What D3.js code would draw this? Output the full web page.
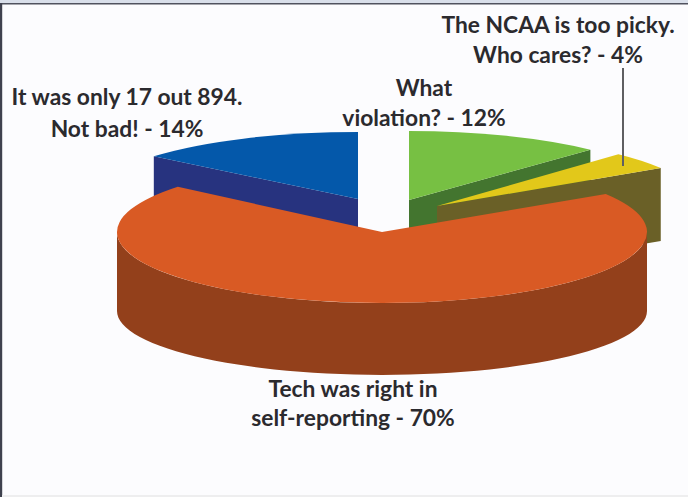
<!DOCTYPE html>
<html>
<head>
<meta charset="utf-8">
<script src="https://cdn.jsdelivr.net/npm/d3@7"></script>
<style>
  html, body { margin: 0; padding: 0; background: #fff; }
  svg { display: block; }
  text { font-family: Lato, "Open Sans", sans-serif; font-weight: 700; fill: #2b2a2e; text-anchor: middle; }
</style>
</head>
<body>
<svg id="chart" width="688" height="497"></svg>
<script>
// Poll results, in clockwise order from twelve o'clock
const categories = ["What violation?", "The NCAA is too picky.", "Tech was right", "Only 17 out of 894"];
const shares = [12, 4, 70, 14];

// Face colours per slice
const topColors = ["#77c043", "#e2c81a", "#d95a24", "#0458aa"];
const wallColors = ["#43752f", "#6a6027", "#93401b", "#27337f"];

// Exploded slice geometry: apex, vertical radius, wall height, floor squash
const apexes = [[409, 200], [437, 206], [382, 232], [358, 199]];
const radiiY = [69, 71, 71, 67];
const wallHeights = [70, 73, 79, 70];
const floorSquash = [1, 1, 0.9, 1];
const radiusX = 265;

const labelLines = [
  { lines: ["The NCAA is too picky.", "Who cares? - 4%"], x: 558, y: [33, 63] },
  { lines: ["What", "violation? - 12%"], x: 424, y: [96, 126] },
  { lines: ["It was only 17 out 894.", "Not bad! - 14%"], x: 127, y: [105, 137] },
  { lines: ["Tech was right in", "self-reporting - 70%"], x: 353, y: [397, 426] }
];
const labelSize = 22.8;
const leader = { x: 623, y1: 68, y2: 166 };

const svg = d3.select("#chart");

// Panel: pale strip along the top, dark rules on the top and left, faint rule at the foot
svg.append("rect").attr("width", 688).attr("height", 497).attr("fill", "#fcfcfe");
svg.append("rect").attr("width", 688).attr("height", 3).attr("fill", "#d9dfea");
svg.append("rect").attr("y", 3).attr("width", 688).attr("height", 1.5).attr("fill", "#50525e");
svg.append("rect").attr("y", 3).attr("width", 2.2).attr("height", 494).attr("fill", "#3f414e");
svg.append("rect").attr("y", 495).attr("x", 2).attr("width", 686).attr("height", 2).attr("fill", "#eeeeef");

const slices = d3.pie().sort(null).startAngle(0).endAngle(2 * Math.PI)(shares);
const arcGen = d3.arc().innerRadius(0).outerRadius(radiusX);
const wallLine = d3.line();

function topPoint(i, angle, r) {
  const [cx, cy] = apexes[i];
  return [cx + r * Math.sin(angle), cy - r * (radiiY[i] / radiusX) * Math.cos(angle)];
}
function floorPoint(i, angle, r) {
  const [cx, cy] = apexes[i];
  return [cx + r * Math.sin(angle),
          cy + wallHeights[i] - r * (radiiY[i] * floorSquash[i] / radiusX) * Math.cos(angle)];
}

// Back slices first so the big front slice overlaps them
const drawOrder = [3, 0, 1, 2];
drawOrder.forEach(i => {
  const s = slices[i];
  const g = svg.append("g");
  const wall = pts => g.append("path").attr("d", wallLine(pts) + "Z")
    .attr("fill", wallColors[i]);

  // Radial cut faces that look toward the viewer
  [s.startAngle, s.endAngle].forEach(a => {
    const faces = a === s.endAngle ? Math.sin(a) > 0 : Math.sin(a) < -0.01;
    if (faces) {
      wall([topPoint(i, a, 0), topPoint(i, a, radiusX), floorPoint(i, a, radiusX), floorPoint(i, a, 0)]);
    }
  });

  // Curved outer wall on the front half of the rim
  const from = Math.max(s.startAngle, Math.PI / 2);
  const to = Math.min(s.endAngle, 3 * Math.PI / 2);
  if (to > from) {
    const steps = d3.range(0, 61).map(k => from + (to - from) * k / 60);
    wall(steps.map(a => topPoint(i, a, radiusX))
      .concat(steps.slice().reverse().map(a => floorPoint(i, a, radiusX))));
  }

  // Top face: a flattened d3 arc
  g.append("path")
    .attr("d", arcGen(s))
    .attr("transform", `translate(${apexes[i][0]},${apexes[i][1]}) scale(1,${radiiY[i] / radiusX})`)
    .attr("fill", topColors[i]);
});

// Leader from the 4% label down to its slice
svg.append("line")
  .attr("x1", leader.x).attr("x2", leader.x)
  .attr("y1", leader.y1).attr("y2", leader.y2)
  .attr("stroke", "#5f5f62").attr("stroke-width", 2);

labelLines.forEach(l => l.lines.forEach((t, k) => {
  svg.append("text").attr("x", l.x).attr("y", l.y[k])
    .attr("font-size", labelSize).text(t);
}));
</script>
</body>
</html>
